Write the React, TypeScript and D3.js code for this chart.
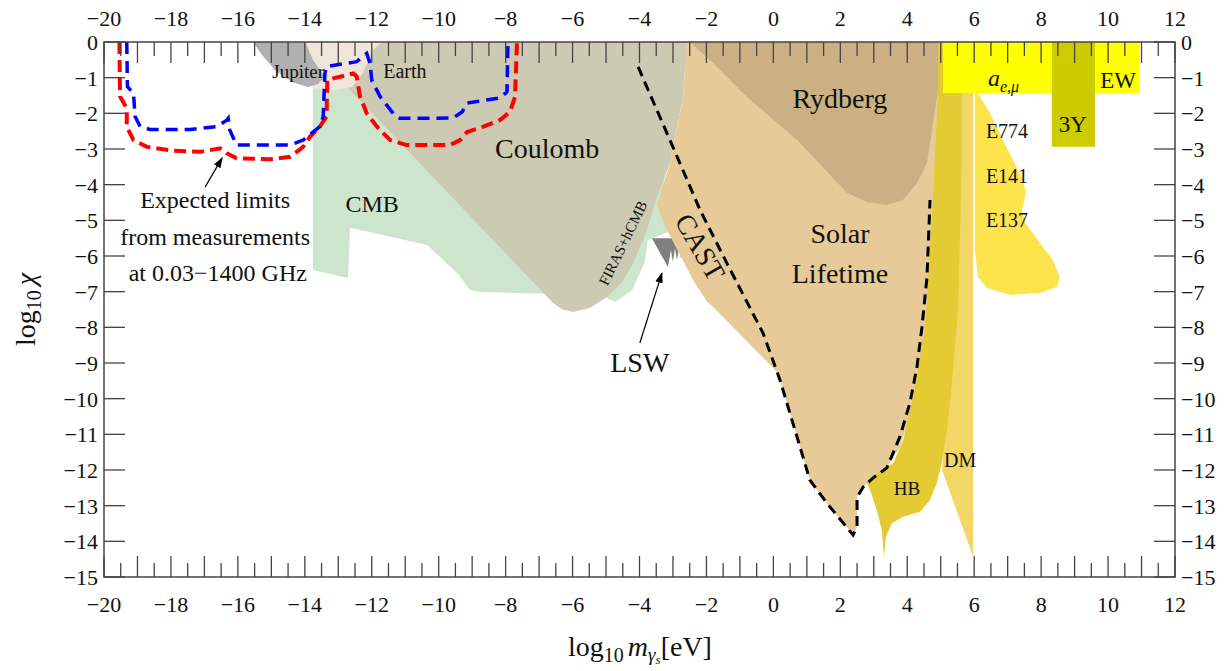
import React from "react";
import * as d3 from "d3";

type Pt = [number, number];

// region boundaries, [log10 m, log10 chi]
const cmbRegion: Pt[] = [
  [-13.76, 0], [-13.76, -6.39], [-12.71, -6.62], [-12.65, -5.21], [-11.66, -5.41],
  [-10.35, -5.69], [-9.96, -6.03], [-9.45, -6.48], [-9.06, -6.95], [-8.77, -7.01],
  [-5.18, -7.09], [-4.73, -7.29], [-4.22, -6.95], [-3.84, -6.17], [-3.75, -5.55],
  [-3.15, -5.33], [-3.39, -4.57], [-2.49, 0],
];
const coulombRegion: Pt[] = [
  [-14.02, 0], [-6.58, -7.32], [-6.32, -7.49], [-5.99, -7.57], [-5.48, -7.46],
  [-4.97, -7.15], [-4.52, -6.73], [-4.19, -6.2], [-3.96, -5.69], [-3.78, -5.27],
  [-3.48, -4.35], [-3.09, -3.39], [-2.7, -1.54], [-2.58, 0],
];
const earthRegion: Pt[] = [
  [-14.05, 0], [-11.69, 0], [-11.96, -0.22], [-12.26, -0.87], [-12.59, -1.26],
  [-13.1, -1.35], [-13.79, -1.29], [-13.49, -1.01], [-13.79, -0.5],
];
const jupiterRegion: Pt[] = [
  [-15.55, 0], [-15.28, -0.36], [-14.89, -0.79], [-14.38, -1.12], [-13.9, -1.26],
  [-13.61, -1.18], [-13.4, -0.98], [-13.76, -0.5], [-13.99, 0],
];
const lswRegion: Pt[] = [
  [-3.63, -5.5], [-3.15, -6.31], [-3.06, -5.83], [-3.0, -6.17], [-2.94, -5.78],
  [-2.88, -6.11], [-2.82, -5.78], [-2.76, -6.06], [-2.7, -5.75], [-2.64, -5.97],
  [-2.58, -5.69], [-2.49, -5.55], [-2.52, -5.5],
];
const solarBound: Pt[] = [
  [-4.04, -0.7], [-3.09, -2.75], [-2.19, -4.71], [-1.39, -6.2], [-0.31, -8.16],
  [0.2, -9.48], [1.09, -12.28], [1.6, -12.93], [2.38, -13.82], [2.5, -13.6],
  [2.5, -12.76], [2.68, -12.48], [2.98, -12.22], [3.39, -11.94], [3.78, -11.07],
  [4.08, -10.12], [4.29, -9.11], [4.44, -7.99], [4.59, -6.59], [4.68, -4.43],
];
const solarRegion: Pt[] = [
  [-2.58, 0], [5.13, 0], [4.98, -4.43], [4.62, -8.07], [4.23, -10.04], [3.78, -11.36],
  [3.39, -11.94], [2.98, -12.22], [2.68, -12.48], [2.5, -12.76], [2.5, -13.6],
  [2.38, -13.82], [1.6, -12.93], [1.09, -12.28], [0.2, -9.48], [0.14, -9.28],
  [-1.8, -7.43], [-1.98, -7.29], [-2.4, -6.67], [-3.18, -5.27], [-3.48, -4.57],
  [-3.09, -3.39], [-2.7, -1.54],
];
const rydbergRegion: Pt[] = [
  [-2.49, 0], [-1.8, -0.59], [-0.79, -1.54], [0.71, -2.75], [2.2, -4.23],
  [2.8, -4.49], [3.39, -4.57], [3.87, -4.43], [4.29, -3.95], [4.59, -3.39],
  [4.74, -2.47], [4.89, -1.54], [5.07, 0],
];
const dmRegion: Pt[] = [
  [5.22, 0], [5.97, 0], [5.97, -14.44], [5.04, -12.0], [5.13, -10.6], [5.13, -7.23],
];
const hbRegion: Pt[] = [
  [4.92, 0], [5.64, 0], [5.63, -3.31], [5.52, -7.51], [5.34, -9.48], [5.19, -10.88],
  [5.03, -11.81], [4.88, -12.37], [4.68, -12.84], [4.38, -13.17], [3.88, -13.31],
  [3.54, -13.49], [3.36, -13.88], [3.31, -14.47], [3.24, -13.68], [3.09, -13.12],
  [2.89, -12.56], [2.79, -12.37], [3.09, -12.09], [3.58, -11.81], [3.88, -11.16],
  [4.18, -9.94], [4.53, -8.07], [4.77, -4.43], [4.92, -1.4],
];
const beamDumpRegion: Pt[] = [
  [6.02, -1.07], [6.14, -1.07], [6.11, -1.43], [6.47, -1.99], [6.86, -2.75],
  [7.16, -3.31], [7.46, -3.87], [7.55, -4.23], [7.43, -4.71], [7.52, -5.07],
  [7.97, -5.64], [8.35, -6.11], [8.56, -6.59], [8.47, -6.87], [7.97, -7.04],
  [7.07, -7.09], [6.38, -6.9], [6.11, -6.59], [6.02, -5.83],
];
const anomalyBox: Pt[] = [[5.07, 0], [10.95, 0], [10.95, -1.43], [5.07, -1.43]];
const upsilonBox: Pt[] = [[8.32, 0], [9.61, 0], [9.61, -2.94], [8.32, -2.94]];

// expected limits
const redLimit: Pt[] = [
  [-19.54, 0], [-19.52, -1.53], [-19.32, -1.86], [-19.32, -2.37], [-19.12, -2.75],
  [-18.72, -2.94], [-17.93, -3.05], [-17.13, -3.08], [-16.53, -2.98], [-16.33, -3.12],
  [-16.04, -3.26], [-15.04, -3.29], [-14.44, -3.22], [-14.05, -2.94], [-13.85, -2.66],
  [-13.55, -2.37], [-13.35, -2.09], [-13.33, -1.07], [-13.15, -1.02], [-12.55, -0.88],
  [-12.45, -0.97], [-12.35, -1.53], [-12.15, -2.0], [-11.85, -2.37], [-11.45, -2.75],
  [-10.96, -2.89], [-9.66, -2.89], [-9.36, -2.75], [-9.15, -2.52], [-8.77, -2.41],
  [-8.17, -2.19], [-7.87, -1.96], [-7.72, -1.54], [-7.66, 0],
];
const blueLimit: Pt[] = [
  [-19.32, 0], [-19.3, -1.25], [-19.12, -1.44], [-19.07, -2.09], [-18.92, -2.37],
  [-18.63, -2.45], [-17.43, -2.45], [-16.63, -2.37], [-16.33, -2.19], [-16.29, -2.14],
  [-16.24, -2.47], [-16.04, -2.89], [-14.44, -2.89], [-14.05, -2.75], [-13.55, -2.37],
  [-13.45, -2.09], [-13.4, -0.88], [-13.35, -0.69], [-12.45, -0.55], [-12.15, -0.32],
  [-12.05, -0.6], [-12.0, -1.07], [-11.75, -1.53], [-11.36, -2.0], [-11.16, -2.14],
  [-10.56, -2.14], [-9.57, -2.13], [-9.3, -1.96], [-9.15, -1.71], [-8.17, -1.57],
  [-7.96, -1.4], [-7.93, 0],
];

const massTicks = d3.range(-20, 13, 1);
const massHalfTicks = d3.range(-19.5, 12, 1);
const massLabels = d3.range(-20, 13, 2);
const chiTicks = d3.range(0, -16, -1);

const W = 1230;
const H = 671;
const left = 104;
const right = 1175;
const top = 42;
const bottom = 577;
const serif = "'Liberation Serif', 'Times New Roman', serif";

const fmt = (v: number) => (v < 0 ? `\u2212${Math.abs(v)}` : `${v}`);

export default function App() {
  const x = d3.scaleLinear().domain([-20, 12]).range([left, right]);
  const y = d3.scaleLinear().domain([0, -15]).range([top, bottom]);
  const area = d3.line<Pt>().x((d) => x(d[0])).y((d) => y(d[1])).curve(d3.curveLinearClosed);
  const line = d3.line<Pt>().x((d) => x(d[0])).y((d) => y(d[1]));

  const regions: [Pt[], string][] = [
    [cmbRegion, "#cce5cc"],
    [coulombRegion, "#cccab2"],
    [lswRegion, "#7f7f7f"],
    [solarRegion, "#e6cb99"],
    [rydbergRegion, "#cbb084"],
    [dmRegion, "#f2d767"],
    [hbRegion, "#e4ca33"],
    [beamDumpRegion, "#fde44d"],
    [anomalyBox, "#ffff00"],
    [upsilonBox, "#cccc00"],
    [earthRegion, "#f0e5d9"],
    [jupiterRegion, "#b0b0b0"],
  ];

  const label = (mx: number, chi: number, text: string, size: number) => (
    <text x={x(mx)} y={y(chi)} fontSize={size} textAnchor="middle">
      {text}
    </text>
  );

  return (
    <svg
      width={W}
      height={H}
      style={{ position: "absolute", left: 0, top: 0, background: "#fff" }}
      fontFamily={serif}
    >
      <defs>
        <clipPath id="plot">
          <rect x={left} y={top} width={right - left} height={bottom - top} />
        </clipPath>
        <marker id="head" viewBox="0 0 10 10" refX="9" refY="5" markerWidth="9" markerHeight="9" orient="auto">
          <path d="M0,1.5 L10,5 L0,8.5 z" fill="#000" />
        </marker>
      </defs>

      <g clipPath="url(#plot)">
        {regions.map(([pts, fill], i) => (
          <path key={i} d={area(pts) || ""} fill={fill} />
        ))}
        <path d={line(redLimit) || ""} fill="none" stroke="#ff0000" strokeWidth={4} strokeDasharray="12 6" />
        <path d={line(blueLimit) || ""} fill="none" stroke="#0000ff" strokeWidth={3.5} strokeDasharray="12 7" />
        <path d={line(solarBound) || ""} fill="none" stroke="#000" strokeWidth={3} strokeDasharray="10 6" />
      </g>

      {/* frame */}
      <rect x={left} y={top} width={right - left} height={bottom - top} fill="none" stroke="#444" strokeWidth={1.5} />

      {/* x ticks */}
      {massTicks.map((v) => (
        <g key={`mt${v}`} stroke="#444" strokeWidth={1.3}>
          <line x1={x(v)} x2={x(v)} y1={bottom} y2={bottom - 21} />
          <line x1={x(v)} x2={x(v)} y1={top} y2={top + 21} />
        </g>
      ))}
      {massHalfTicks.map((v) => (
        <g key={`mh${v}`} stroke="#444" strokeWidth={1.3}>
          <line x1={x(v)} x2={x(v)} y1={bottom} y2={bottom - 14} />
          <line x1={x(v)} x2={x(v)} y1={top} y2={top + 14} />
        </g>
      ))}
      {massLabels.map((v) => (
        <g key={`ml${v}`} fontSize={22} textAnchor="middle" fill="#111">
          <text x={x(v)} y={bottom + 35}>{fmt(v)}</text>
          <text x={x(v)} y={top - 16}>{fmt(v)}</text>
        </g>
      ))}

      {/* y ticks */}
      {chiTicks.map((v) => (
        <g key={`c${v}`}>
          <line x1={left} x2={left + 21} y1={y(v)} y2={y(v)} stroke="#444" strokeWidth={1.3} />
          <line x1={right} x2={right - 21} y1={y(v)} y2={y(v)} stroke="#444" strokeWidth={1.3} />
          <text x={left - 6} y={y(v) + 8} fontSize={22} textAnchor="end" fill="#111">{fmt(v)}</text>
          <text x={right + 6} y={y(v) + 8} fontSize={22} textAnchor="start" fill="#111">{fmt(v)}</text>
        </g>
      ))}

      {/* axis titles */}
      <text x={640} y={656} fontSize={28} textAnchor="middle" fill="#111">
        log<tspan fontSize={20} dy={6}>10</tspan>
        <tspan dy={-6} dx={4} fontStyle="italic">m</tspan>
        <tspan fontSize={19} dy={5} fontStyle="italic">γ</tspan>
        <tspan fontSize={13} dy={3} fontStyle="italic">s</tspan>
        <tspan dy={-8}>[eV]</tspan>
      </text>
      <text transform={`translate(35,${(top + bottom) / 2}) rotate(-90)`} fontSize={28} textAnchor="middle" fill="#111">
        log<tspan fontSize={20} dy={6}>10</tspan>
        <tspan dy={-6} dx={5} fontStyle="italic">χ</tspan>
      </text>

      {/* region labels */}
      <g fill="#111">
        {label(-14.2, -1.01, "Jupiter", 19)}
        {label(-11.01, -1.01, "Earth", 20)}
        {label(-6.76, -3.25, "Coulomb", 28)}
        {label(-11.99, -4.77, "CMB", 24)}
        {label(1.99, -1.85, "Rydberg", 28)}
        {label(1.99, -5.64, "Solar", 28)}
        {label(1.99, -6.76, "Lifetime", 28)}
        {label(10.3, -1.29, "EW", 23)}
        {label(8.95, -2.52, "3Υ", 23)}
        {label(6.98, -2.69, "E774", 20)}
        {label(6.98, -3.95, "E141", 20)}
        {label(6.98, -5.19, "E137", 20)}
        {label(3.99, -12.7, "HB", 19)}
        {label(5.58, -11.92, "DM", 20)}
        {label(-3.99, -9.25, "LSW", 28)}
        {label(-16.68, -4.65, "Expected limits", 24)}
        {label(-16.68, -5.69, "from measurements", 24)}
        {label(-16.6, -6.7, "at 0.03\u22121400 GHz", 24)}
        <text
          transform={`translate(${x(-4.49)},${y(-5.64)}) rotate(-64)`}
          fontSize={15}
          textAnchor="middle"
          dominantBaseline="central"
        >
          FIRAS+hCMB
        </text>
        <text
          transform={`translate(${x(-2.19)},${y(-5.75)}) rotate(60)`}
          fontSize={28}
          textAnchor="middle"
          dominantBaseline="central"
        >
          CAST
        </text>
        <text x={x(6.41)} y={y(-1.23)} fontSize={24} fontStyle="italic">
          a<tspan fontSize={16} dy={6}>e,μ</tspan>
        </text>
      </g>

      {/* arrows */}
      <line
        x1={x(-16.98)} y1={y(-4.07)} x2={x(-16.47)} y2={y(-3.25)}
        stroke="#000" strokeWidth={1.2} markerEnd="url(#head)"
      />
      <line
        x1={x(-3.99)} y1={y(-8.44)} x2={x(-3.33)} y2={y(-6.48)}
        stroke="#000" strokeWidth={1.2} markerEnd="url(#head)"
      />
    </svg>
  );
}
